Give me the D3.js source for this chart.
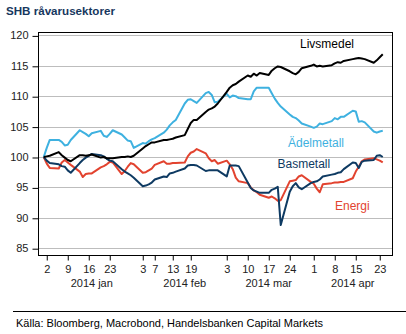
<!DOCTYPE html>
<html>
<head>
<meta charset="utf-8">
<script src="https://cdn.jsdelivr.net/npm/d3@7"></script>
<style>
    body { margin: 0; background: #fff; }
    svg text { font-family: "Liberation Sans", Arial, sans-serif; }
</style>
</head>
<body>
<div id="chart"></div>
<script>
(function() {
    // Index, 1 jan 2014 = 100. One value per weekday, 1 jan .. 24 apr.
    var firstDay = "2014-01-01";
    var lastDay = "2014-04-24";

    var livsmedel = [
        100.0, 100.1, 100.2,
        100.8, 100.3, 99.9, 99.5, 99.3,
        100.3, 100.3, 100.2, 100.3, 100.4,
        99.9, 100.0, 99.8, 99.8, 99.8,
        100.0, 100.0, 100.1, 100.0, 100.2,
        101.4, 101.8, 102.1, 102.4, 102.4,
        102.8, 102.8, 102.9, 103.0, 103.2,
        103.6, 104.6, 105.6, 106.1, 106.1,
        107.4, 107.8, 108.0, 108.3, 108.8,
        110.7, 111.4, 111.8, 112.0, 112.4,
        113.4, 113.2, 113.7, 113.4, 113.8,
        113.5, 114.2, 114.6, 114.9, 114.8,
        114.1, 113.8, 113.6, 114.0, 114.6,
        115.0, 115.2, 114.9, 115.0, 114.9,
        115.1, 115.4, 115.6, 115.5, 115.8,
        116.1, 116.2, 116.3, 116.2, 116.1,
        115.5, 115.9, 116.4, 116.9
    ];

    var adelmetall = [
        100.0, 101.5, 102.8,
        102.8, 102.5, 101.9, 102.0, 102.8,
        104.4, 104.1, 103.8, 103.4, 103.9,
        104.3, 103.5, 103.3, 103.8, 104.4,
        103.7, 103.2, 102.7, 102.6, 101.5,
        102.3, 102.2, 102.6, 102.9, 103.1,
        104.0, 104.5, 105.2, 105.7, 106.1,
        108.8, 109.4, 109.5, 109.2, 108.9,
        110.5, 110.7, 110.2, 109.0, 109.1,
        110.4, 109.8, 110.1, 110.0, 109.7,
        109.5, 109.5, 110.8, 111.4, 111.4,
        111.4, 110.5, 109.6, 108.9, 108.3,
        107.0, 106.6, 106.4, 106.0, 105.5,
        105.0, 104.8, 105.0, 105.5, 105.4,
        105.9, 106.4, 106.2, 106.6, 106.6,
        107.6, 107.5, 105.8, 105.9, 105.7,
        104.2, 104.0, 104.2, 104.3
    ];

    var basmetall = [
        100.0, 99.4, 99.0,
        98.8, 98.5, 98.4, 97.8, 97.4,
        99.0, 99.5, 99.9, 100.2, 100.5,
        100.3, 100.1, 99.7, 99.4, 99.3,
        98.0, 97.6, 97.3, 97.0, 96.6,
        95.2, 95.3, 95.5, 95.8, 96.3,
        96.8, 96.7, 97.3, 97.4, 97.6,
        98.1, 98.6, 98.7, 98.7, 98.6,
        97.7, 97.8, 97.8, 97.8, 97.8,
        96.8, 98.6, 98.6, 98.6, 98.5,
        95.8, 94.9, 94.5, 94.3, 94.1,
        94.1, 94.6, 94.8, 95.1, 88.8,
        94.3, 95.2, 95.7, 95.0, 94.7,
        95.7, 95.9, 96.0, 96.3, 96.8,
        97.1, 97.2, 97.4, 97.5, 98.0,
        99.1, 99.0, 98.2, 99.2, 99.4,
        99.5, 100.2, 100.3, 100.0
    ];

    var energi = [
        100.0, 98.9, 98.2,
        98.1, 99.1, 99.5, 99.1, 98.7,
        97.6, 96.7, 97.2, 97.3, 97.3,
        98.3, 98.5, 98.8, 99.2, 99.1,
        97.2, 97.7, 98.4, 99.0, 98.8,
        97.4, 97.5, 97.8, 98.1, 98.7,
        99.3, 98.9, 98.9, 99.0, 99.0,
        99.1, 100.1, 100.7, 100.9, 101.3,
        100.6, 99.8, 99.3, 99.5, 98.9,
        99.4, 98.8, 98.0, 96.6, 96.0,
        95.7, 95.0, 94.5, 94.2, 93.8,
        93.3, 93.5, 93.2, 92.8, 92.9,
        96.0, 96.1, 96.2, 96.8, 97.0,
        95.9, 95.6, 94.8, 94.2, 95.5,
        95.7, 95.8, 95.8, 95.9, 95.9,
        96.5, 97.6, 98.4, 99.3, 99.6,
        99.8, 99.6, 99.4, 99.1
    ];

    var tickDays = ["2014-01-02", "2014-01-09", "2014-01-16", "2014-01-23",
                    "2014-02-03", "2014-02-07", "2014-02-13", "2014-02-19",
                    "2014-03-03", "2014-03-10", "2014-03-17", "2014-03-24",
                    "2014-04-01", "2014-04-08", "2014-04-15", "2014-04-23"];
    var monthLabels = ["2014 jan", "2014 feb", "2014 mar", "2014 apr"];
    var monthLabelDays = ["2014-01-17", "2014-02-17", "2014-03-17", "2014-04-14"];
    var yTicks = [85, 90, 95, 100, 105, 110, 115, 120];

    var parse = d3.utcParse("%Y-%m-%d");

    // weekdays only
    var days = d3.utcDay.range(parse(firstDay), d3.utcDay.offset(parse(lastDay), 1))
        .filter(function(d) { return d.getUTCDay() !== 0 && d.getUTCDay() !== 6; });

    var width = 406, height = 334;
    var left = 38, right = 393, top = 32, bottom = 255;

    var svg = d3.select("#chart").append("svg")
        .attr("width", width)
        .attr("height", height);

    var x = d3.scaleUtc()
        .domain([new Date(Date.UTC(2013, 11, 30, 2)), new Date(Date.UTC(2014, 3, 27, 10))])
        .range([left, right]);
    var y = d3.scaleLinear()
        .domain([83.88, 120.56])
        .range([bottom, top]);

    // Title
    svg.append("text")
        .attr("x", 6).attr("y", 15)
        .attr("font-size", "11.6px")
        .attr("font-weight", "bold")
        .attr("fill", "#17375e")
        .text("SHB råvarusektorer");

    // Grid lines
    svg.append("g")
        .selectAll("line")
        .data(yTicks)
        .enter().append("line")
        .attr("x1", left).attr("x2", right)
        .attr("y1", function(d) { return Math.round(y(d)) + 0.5; })
        .attr("y2", function(d) { return Math.round(y(d)) + 0.5; })
        .attr("stroke", "#bdbdbd")
        .attr("stroke-width", 1);

    // Axes
    var yAxis = d3.axisLeft(y)
        .tickValues(yTicks)
        .tickSize(6)
        .tickPadding(4)
        .tickFormat(d3.format("d"));
    var gy = svg.append("g")
        .attr("transform", "translate(" + (left + 0.5) + ",0)")
        .call(yAxis);
    gy.select(".domain").remove();
    gy.selectAll(".tick line")
        .attr("transform", function() { return "translate(0,0.5)"; });

    var xAxis = d3.axisBottom(x)
        .tickValues(tickDays.map(parse))
        .tickSize(5)
        .tickPadding(5)
        .tickFormat(d3.utcFormat("%-d"));
    var gx = svg.append("g")
        .attr("transform", "translate(0," + (bottom + 0.5) + ")")
        .call(xAxis);
    gx.select(".domain").remove();

    [gx, gy].forEach(function(g) {
        g.selectAll("text")
            .attr("font-size", "11px")
            .attr("font-family", "Liberation Sans, Arial, sans-serif")
            .attr("fill", "#222");
        g.selectAll(".tick line").attr("stroke", "#000");
    });

    svg.append("g")
        .selectAll("text")
        .data(monthLabels)
        .enter().append("text")
        .attr("x", function(d, i) { return x(parse(monthLabelDays[i])); })
        .attr("y", 287)
        .attr("text-anchor", "middle")
        .attr("font-size", "11px")
        .attr("fill", "#222")
        .text(function(d) { return d; });

    // Frame
    svg.append("rect")
        .attr("x", left + 0.5).attr("y", top + 0.5)
        .attr("width", right - left - 1).attr("height", bottom - top)
        .attr("fill", "none")
        .attr("stroke", "#000")
        .attr("stroke-width", 1);

    // Lines
    var line = d3.line()
        .x(function(d, i) { return x(days[i]); })
        .y(function(d) { return y(d); });

    var series = [
        { values: adelmetall, color: "#3eb1e0" },
        { values: energi, color: "#e2432f" },
        { values: basmetall, color: "#0e3a62" },
        { values: livsmedel, color: "#000000" }
    ];

    svg.append("g")
        .selectAll("path")
        .data(series)
        .enter().append("path")
        .attr("d", function(s) { return line(s.values); })
        .attr("fill", "none")
        .attr("stroke", function(s) { return s.color; })
        .attr("stroke-width", 2)
        .attr("stroke-linejoin", "round");

    // Series labels
    var labels = [
        { text: "Livsmedel", x: 300, y: 48, color: "#000" },
        { text: "Ädelmetall", x: 288, y: 146.5, color: "#3eb1e0" },
        { text: "Basmetall", x: 277.5, y: 167.5, color: "#0e3a62" },
        { text: "Energi", x: 335, y: 209.5, color: "#e2432f" }
    ];
    svg.append("g")
        .selectAll("text")
        .data(labels)
        .enter().append("text")
        .attr("x", function(d) { return d.x; })
        .attr("y", function(d) { return d.y; })
        .attr("font-size", "12px")
        .attr("fill", function(d) { return d.color; })
        .text(function(d) { return d.text; });

    // Source
    svg.append("line")
        .attr("x1", 13).attr("x2", width)
        .attr("y1", 311.5).attr("y2", 311.5)
        .attr("stroke", "#000")
        .attr("stroke-width", 1);
    svg.append("text")
        .attr("x", 16).attr("y", 327)
        .attr("font-size", "11px")
        .attr("fill", "#000")
        .text("Källa: Bloomberg, Macrobond, Handelsbanken Capital Markets");
})();
</script>
</body>
</html>
